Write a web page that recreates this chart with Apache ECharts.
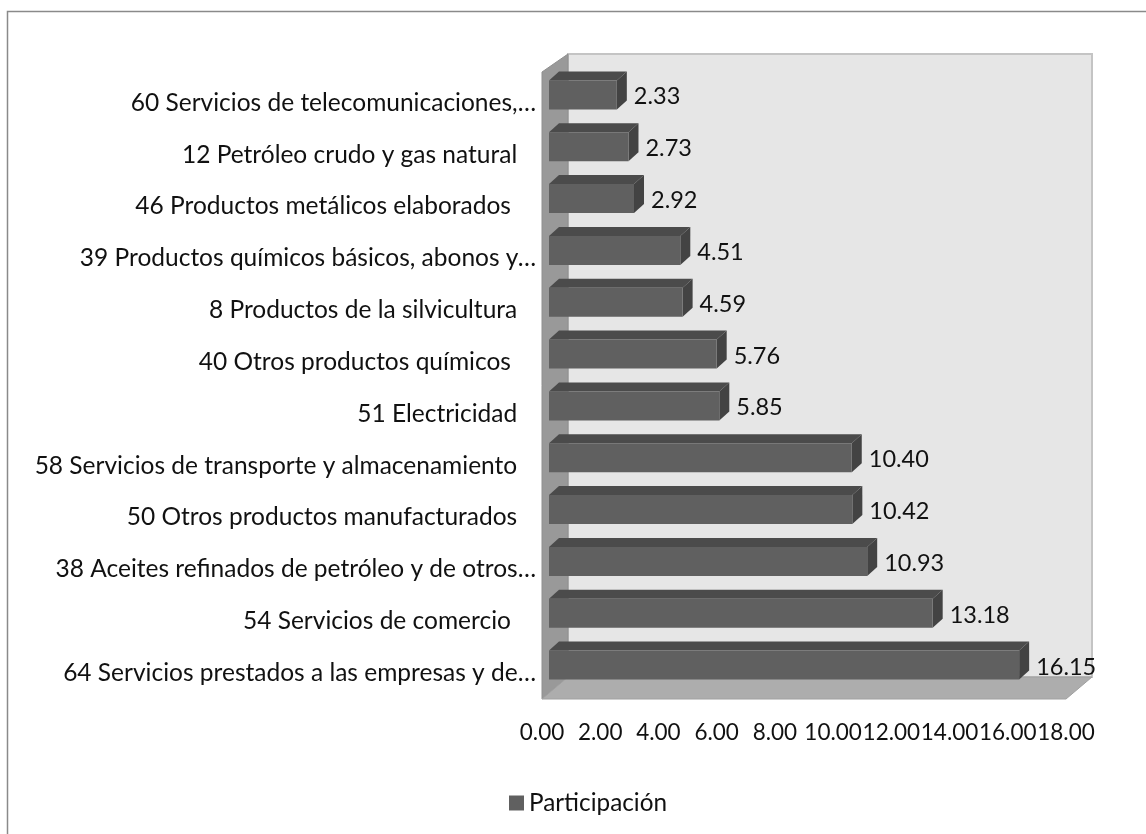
<!DOCTYPE html>
<html><head><meta charset="utf-8">
<style>html,body{margin:0;padding:0;background:#fff}#c{width:1146px;height:834px}</style>
<script src="https://cdn.jsdelivr.net/npm/echarts@6/dist/echarts.min.js"></script>
</head><body><div id="c"></div>
<script>
const categories = [
  "64 Servicios prestados a las empresas y de…",
  "54 Servicios de comercio  ",
  "38 Aceites refinados de petróleo y de otros…",
  "50 Otros productos manufacturados ",
  "58 Servicios de transporte y almacenamiento ",
  "51 Electricidad ",
  "40 Otros productos químicos  ",
  "8 Productos de la silvicultura ",
  "39 Productos químicos básicos, abonos y…",
  "46 Productos metálicos elaborados  ",
  "12 Petróleo crudo y gas natural ",
  "60 Servicios de telecomunicaciones,…"
];
const values = [16.15, 13.18, 10.93, 10.42, 10.40, 5.85, 5.76, 4.59, 4.51, 2.92, 2.73, 2.33];
const seriesName = "Participación";
const FONT = "Lato, 'Open Sans', sans-serif";
const chart = echarts.init(document.getElementById('c'), null, {renderer:'canvas'});

function renderWalls(params, api){
  const cs = params.coordSys;
  const L = cs.x, B = cs.y + cs.height, R = cs.x + cs.width, T = cs.y;
  const dx = 26, dy = 22, topFront = T - 5;
  return {type:'group', children:[
    {type:'polygon', shape:{points:[[L+dx,topFront-dy+4],[R+dx,topFront-dy+4],[R+dx,B-dy],[L+dx,B-dy]]},
     style:{fill:'#e6e6e6', stroke:'#c4c4c4', lineWidth:2}},
    {type:'polygon', shape:{points:[[L,topFront],[L+dx,topFront-dy+4],[L+dx,B-dy],[L,B]]},
     style:{fill:'#999999', stroke:'#8f8f8f', lineWidth:1}},
    {type:'polygon', shape:{points:[[L,B],[L+dx,B-dy],[R+dx,B-dy],[R,B]]},
     style:{fill:'#adadad', stroke:'#a0a0a0', lineWidth:1}}
  ]};
}
function renderBar(params, api){
  const v = api.value(0), cat = api.value(1);
  const p0 = api.coord([0, cat]), p1 = api.coord([v, cat]);
  const ox = 7, oy = -8, h = 29, dx = 10, dy = 9;
  const x0 = p0[0]+ox, x1 = p1[0]+ox, yc = p0[1]+oy, t = yc-h/2, b = yc+h/2;
  return {type:'group', children:[
    {type:'polygon', shape:{points:[[x0,t],[x0+dx,t-dy],[x1+dx,t-dy],[x1,t]]}, style:{fill:'#4b4b4b'}},
    {type:'polygon', shape:{points:[[x1,t],[x1+dx,t-dy],[x1+dx,b-dy],[x1,b]]}, style:{fill:'#434343'}},
    {type:'rect', shape:{x:x0,y:t,width:x1-x0,height:h}, style:{fill:'#606060'}},
    {type:'text', x:x1+dx+7, y:yc+2, style:{text:v.toFixed(2), font:'23.5px '+FONT, fill:'#111', textVerticalAlign:'middle', verticalAlign:'middle'}}
  ]};
}
function padLabel(s){
  const m = s.match(/ +$/);
  if(!m) return s;
  return s.trimEnd() + ' '.repeat(m[0].length === 1 ? 3 : 4);
}
chart.setOption({
  animation:false,
  backgroundColor:'#fff',
  grid:{left:542, width:524, top:77, height:622, containLabel:false},
  xAxis:{type:'value', min:0, max:18, interval:2, splitLine:{show:false}, axisLine:{show:false}, axisTick:{show:false},
    axisLabel:{formatter:v=>v.toFixed(2), fontFamily:FONT, fontSize:22.5, color:'#111', margin:22, hideOverlap:false}},
  yAxis:{type:'category', data:categories, axisLine:{show:false}, axisTick:{show:false},
    axisLabel:{formatter:padLabel, fontFamily:FONT, fontSize:24.5, color:'#111', margin:6, interval:0}},
  legend:{data:[seriesName], left:504, top:786, itemWidth:15, itemHeight:15, itemGap:6, icon:'rect',
    textStyle:{fontFamily:FONT, fontSize:24.3, color:'#111'}},
  graphic:[{type:'polyline', shape:{points:[[7.5,834],[7.5,11.5],[1146,11.5]]}, style:{stroke:'#8a8a8a', fill:null, lineWidth:1.5}, silent:true}],
  series:[
    {type:'custom', name:'walls', coordinateSystem:'cartesian2d', silent:true, z:1, renderItem:renderWalls, data:[[0,0]], encode:{x:0,y:1}},
    {type:'custom', name:seriesName, coordinateSystem:'cartesian2d', z:2, itemStyle:{color:'#606060'}, renderItem:renderBar,
     data:values.map((v,i)=>[v,i]), encode:{x:0,y:1}}
  ]
});
</script></body></html>
